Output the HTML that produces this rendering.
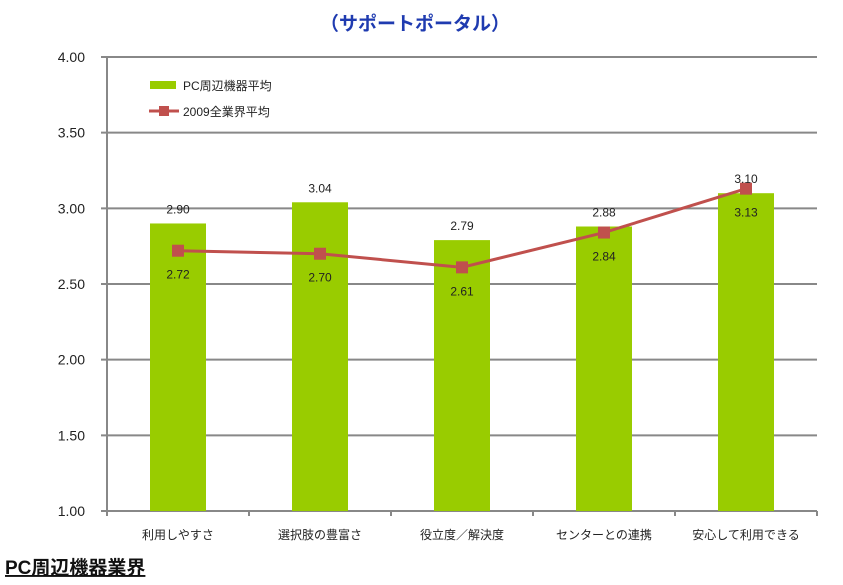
<!DOCTYPE html>
<html><head><meta charset="utf-8"><style>
body{margin:0;background:#fff;width:843px;height:580px;overflow:hidden;font-family:"Liberation Sans","Noto Sans CJK JP",sans-serif}
</style></head><body>
<svg width="843" height="580" xmlns="http://www.w3.org/2000/svg" font-family="Liberation Sans, Noto Sans CJK JP, sans-serif">
<text x="415" y="30" text-anchor="middle" font-size="19" font-weight="bold" fill="#1f3bb0">（サポートポータル）</text>
<g id="grid"></g><g id="bars"></g><g id="line"></g><g id="labels"></g>
<g>
<rect x="150" y="81" width="26" height="8" fill="#99cc00"/>
<text x="183" y="90" font-size="12" fill="#222">PC周辺機器平均</text>
<line x1="149" y1="111" x2="179" y2="111" stroke="#c0504d" stroke-width="3"/>
<rect x="159" y="106" width="10" height="10" fill="#c0504d"/>
<text x="183" y="116" font-size="12" fill="#222">2009全業界平均</text>
</g>
<text x="5" y="574" font-size="19" font-weight="bold" fill="#111" text-decoration="underline">PC周辺機器業界</text>
</svg>
<script>
const categories=["利用しやすさ","選択肢の豊富さ","役立度／解決度","センターとの連携","安心して利用できる"];
const pcValues=[2.90,3.04,2.79,2.88,3.10];
const industryValues=[2.72,2.70,2.61,2.84,3.13];
const yTicks=[1.00,1.50,2.00,2.50,3.00,3.50,4.00];
const NS="http://www.w3.org/2000/svg";
const x0=107,cw=142,yTop=57,yBot=511,vMin=1,vMax=4;
const y=v=>yBot-(v-vMin)/(vMax-vMin)*(yBot-yTop);
const cx=i=>x0+cw*(i+0.5);
function mk(p,tag,a){const e=document.createElementNS(NS,tag);for(const k in a)e.setAttribute(k,a[k]);p.appendChild(e);return e;}
const g=document.getElementById('grid'),b=document.getElementById('bars'),l=document.getElementById('line'),lb=document.getElementById('labels');
yTicks.forEach(t=>{
 const ln=mk(g,'line',{x1:101,x2:x0+cw*categories.length,y1:y(t),y2:y(t),stroke:'#888','stroke-width':2});
 
 
 const tx=mk(g,'text',{x:85,y:y(t)+5,'text-anchor':'end','font-size':14,fill:'#222'});
 tx.textContent=t.toFixed(2);
 
 
});
const ax=mk(g,'line',{x1:x0,x2:x0,y1:yTop,y2:yBot+5,stroke:'#888','stroke-width':2});


categories.forEach((c,i)=>{
 const tk=mk(g,'line',{x1:x0+cw*(i+1),x2:x0+cw*(i+1),y1:yBot,y2:yBot+5,stroke:'#888','stroke-width':2});
 
 
 const t=mk(g,'text',{x:cx(i),y:yBot+28,'text-anchor':'middle','font-size':12,fill:'#222'});
 t.textContent=c;
 
 
});
pcValues.forEach((v,i)=>{
 const r=mk(b,'rect',{x:cx(i)-28,y:y(v),width:56,height:yBot-y(v),fill:'#99cc00'});
 
 
 const t=mk(lb,'text',{x:cx(i),y:y(v)-10,'text-anchor':'middle','font-size':12,fill:'#222'});
 t.textContent=v.toFixed(2);
 
 
});
const pl=mk(l,'polyline',{points:industryValues.map((v,i)=>cx(i)+','+y(v)).join(' '),fill:'none',stroke:'#c0504d','stroke-width':3});


industryValues.forEach((v,i)=>{
 const m=mk(l,'rect',{x:cx(i)-6,y:y(v)-6,width:12,height:12,fill:'#c0504d'});
 
 
 const t=mk(lb,'text',{x:cx(i),y:y(v)+28,'text-anchor':'middle','font-size':12,fill:'#222'});
 t.textContent=v.toFixed(2);
 
 
});
</script>
</body></html>
